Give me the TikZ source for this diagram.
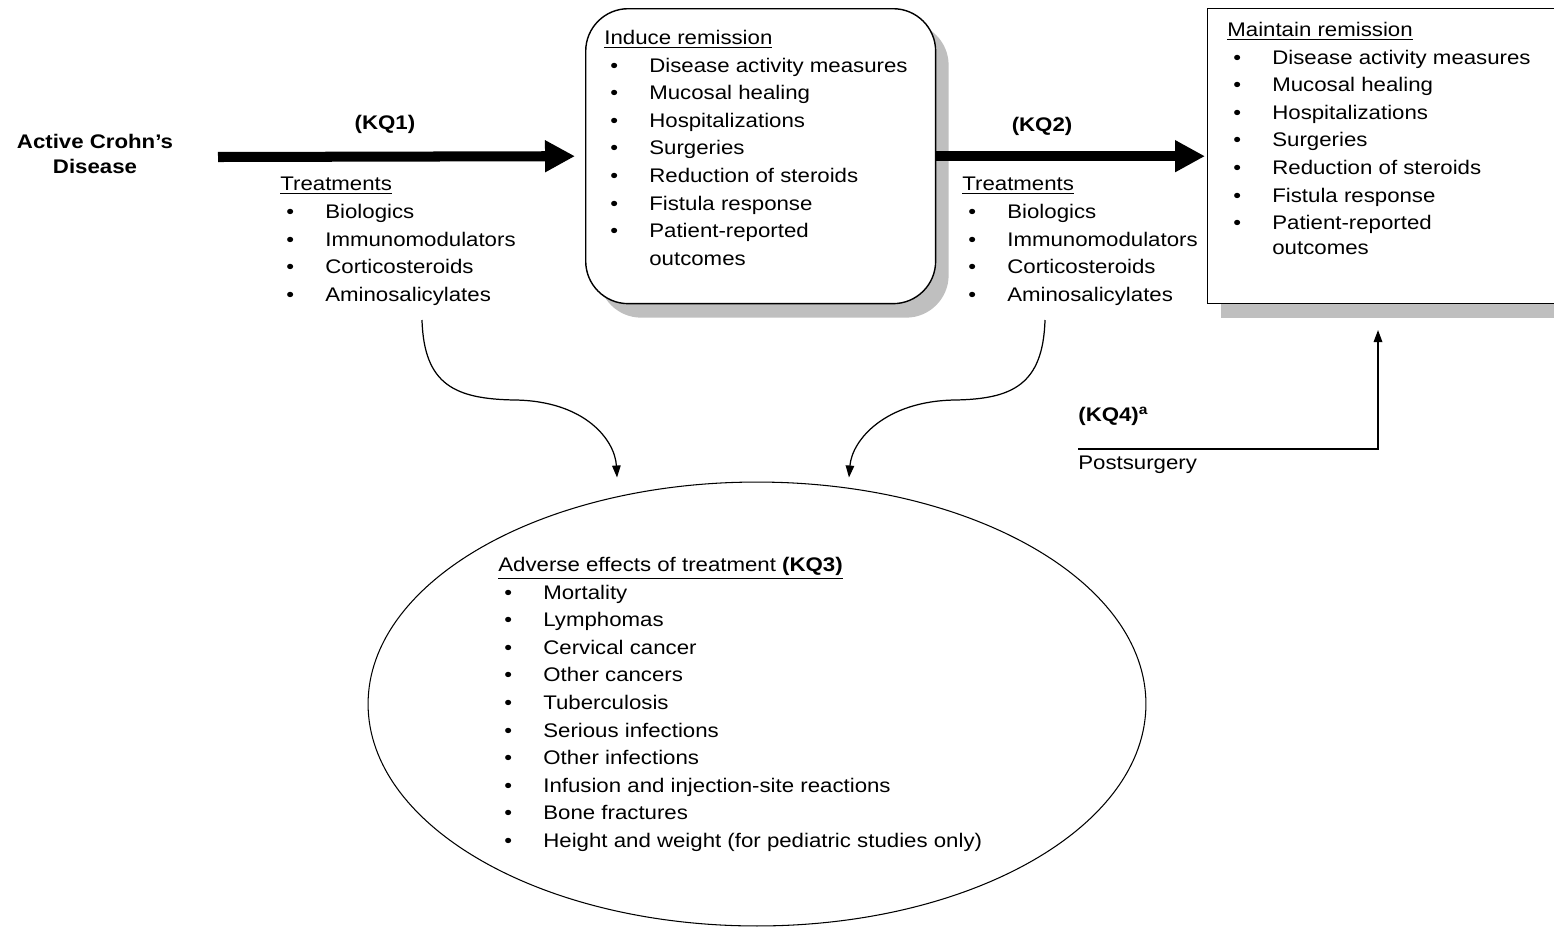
\documentclass[tikz,border=0pt]{standalone}
\usepackage{fontspec}
\setmainfont{Liberation Sans}[FakeStretch=1.13]
\usetikzlibrary{arrows.meta,positioning,shapes.geometric,shadows}
\definecolor{cdgray}{RGB}{191,191,191}
\newcommand{\bitem}[1]{\\\hspace*{0.12cm}\makebox[0.78cm][l]{\textbullet}#1}
\newcommand{\bcont}[1]{\\\hspace*{0.9cm}#1}

\begin{document}
\begin{tikzpicture}[x=0.02cm,y=-0.02cm,
  cdtext/.style={anchor=north west,inner sep=0pt,align=left,
    font=\fontsize{11.2}{15.7}\selectfont},
  cdbold/.style={inner sep=0pt,align=center,
    font=\fontsize{11.2}{14.7}\selectfont\bfseries},
  cdbox/.style={draw,line width=0.8pt,fill=white,anchor=north west,
    minimum width=7cm,minimum height=5.9cm,
    drop shadow={shadow xshift=0.26cm,shadow yshift=-0.28cm,fill=cdgray,opacity=1}},
  cdbig/.style={line width=5.7pt,-{Triangle[length=0.6cm,width=0.6cm]}},
  cdthin/.style={line width=0.7pt,-{Triangle[length=0.24cm,width=0.17cm]}}
]
  \clip (0,0) rectangle (1554,927);

  % Start
  \node[cdbold] (crohn) at (95,154) {Active Crohn’s\\Disease};
  \coordinate (kqonestart) at (218,157);

  % Induce remission
  \node[cdbox,rounded corners=0.85cm] (induce) at (585,8) {};
  \node[cdtext] (inducetxt) at (604,30) {\underline{Induce remission}
    \bitem{Disease activity measures}\bitem{Mucosal healing}
    \bitem{Hospitalizations}\bitem{Surgeries}
    \bitem{Reduction of steroids}\bitem{Fistula response}
    \bitem{Patient-reported}\bcont{outcomes}};

  % Maintain remission
  \node[cdbox,minimum width=7.3cm] (maintain) at (1207,8) {};
  \node[cdtext] (maintaintxt) at (1227,22) {\underline{Maintain remission}
    \bitem{Disease activity measures}\bitem{Mucosal healing}
    \bitem{Hospitalizations}\bitem{Surgeries}
    \bitem{Reduction of steroids}\bitem{Fistula response}
    \bitem{Patient-reported}\\[-0.06cm]\hspace*{0.9cm}outcomes};

  % Treatments
  \node[cdbold] (kqone) at (385,124) {(KQ1)};
  \node[cdtext] (treatone) at (280,177) {\underline{Treatments}
    \bitem{Biologics}\bitem{Immunomodulators}
    \bitem{Corticosteroids}\bitem{Aminosalicylates}};
  \node[cdbold] (kqtwo) at (1042,126) {(KQ2)};
  \node[cdtext] (treattwo) at (962,177) {\underline{Treatments}
    \bitem{Biologics}\bitem{Immunomodulators}
    \bitem{Corticosteroids}\bitem{Aminosalicylates}};

  % Adverse effects
  \node[draw,ellipse,line width=0.6pt,minimum width=15.56cm,
    minimum height=8.88cm,inner sep=0pt] (adverse) at (757,704) {};
  \node[cdtext] (adversetxt) at (498,557)
    {\underline{Adverse effects of treatment \textbf{(KQ3)}}
    \bitem{Mortality}\bitem{Lymphomas}\bitem{Cervical cancer}
    \bitem{Other cancers}\bitem{Tuberculosis}\bitem{Serious infections}
    \bitem{Other infections}\bitem{Infusion and injection-site reactions}
    \bitem{Bone fractures}\bitem{Height and weight (for pediatric studies only)}};

  % Postsurgery
  \node[cdbold,anchor=west] (kqfour) at (1078,416) {(KQ4)\textsuperscript{a}};
  \node[cdtext,inner ysep=0.14cm] (postsurg) at (1078,449) {Postsurgery};
  \coordinate (kqtip) at (1378,330);

  % Arrows
  \draw[cdbig] (kqonestart) -- ([xshift=-0.2cm]induce.west);
  \draw[cdbig] (induce.east) -- ([xshift=-0.04cm]maintain.west);
  \coordinate (curvel) at (422,320);
  \coordinate (curver) at (1045,320);
  \draw[cdthin] (curvel) .. controls (424,385) and (455,399) .. (515,400)
    .. controls (585,401) and (615,440) .. ([xshift=-2.8cm,yshift=0.08cm]adverse.north);
  \draw[cdthin] (curver) .. controls (1043,385) and (1012,399) .. (955,400)
    .. controls (885,401) and (852,440) .. ([xshift=1.84cm,yshift=0.08cm]adverse.north);
  \draw[cdthin,line width=0.9pt] (postsurg.north west) -| (kqtip);
\end{tikzpicture}
\end{document}
